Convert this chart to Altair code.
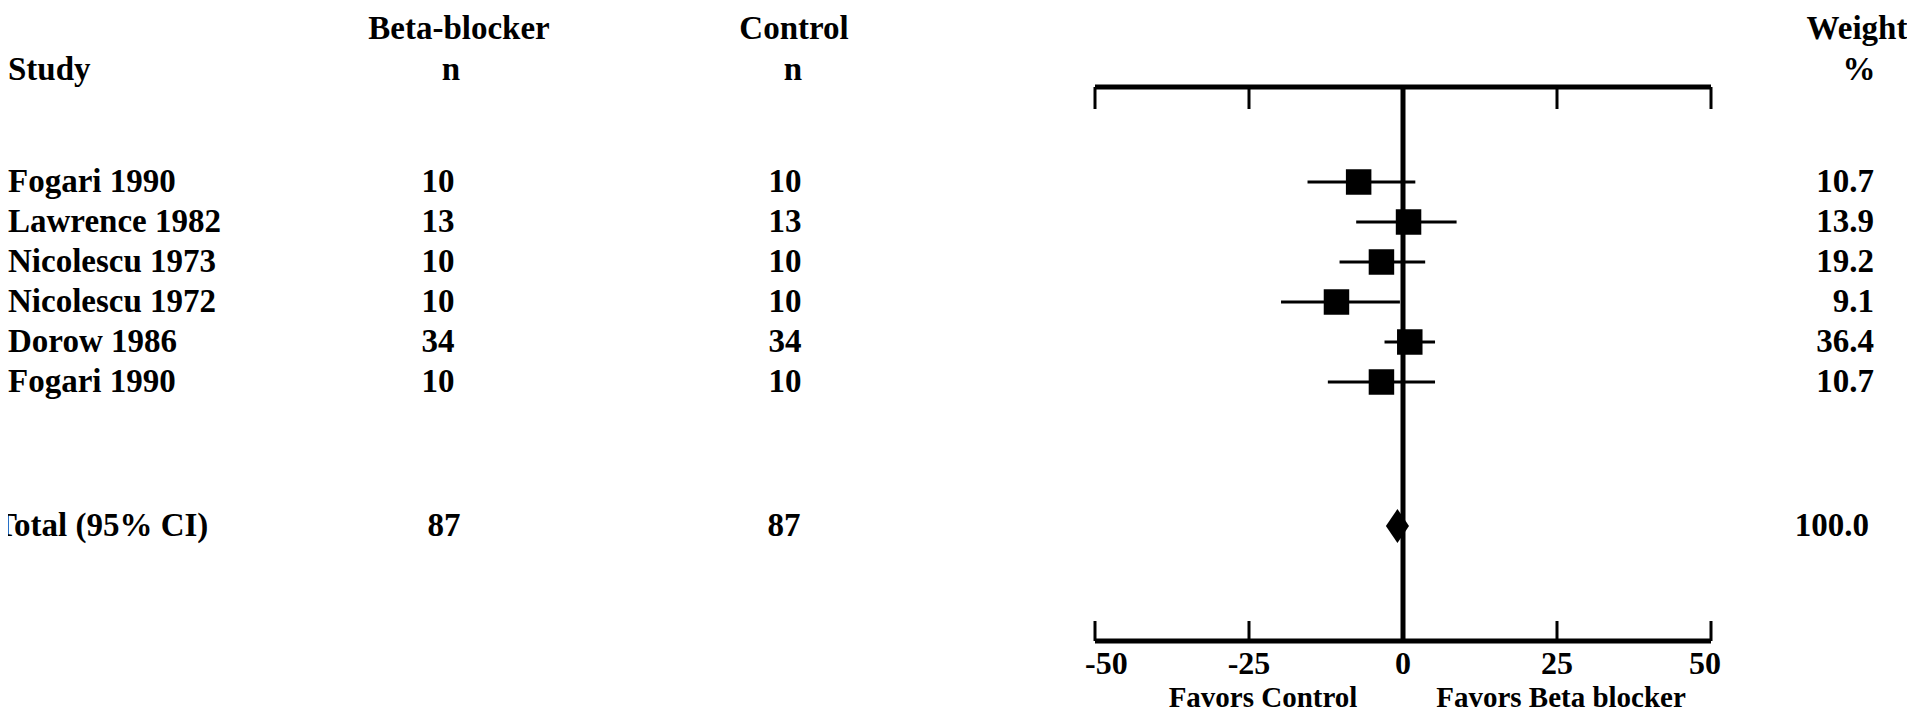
import altair as alt
import pandas as pd

# ---- data ----
studies = ["Fogari 1990", "Lawrence 1982", "Nicolescu 1973", "Nicolescu 1972", "Dorow 1986", "Fogari 1990"]
beta_n = [10, 13, 10, 10, 34, 10]
control_n = [10, 13, 10, 10, 34, 10]
effect = [-7.2, 0.9, -3.5, -10.8, 1.1, -3.5]
ci_low = [-15.5, -7.6, -10.3, -19.8, -3.0, -12.2]
ci_high = [2.0, 8.7, 3.6, -0.5, 5.2, 5.2]
weight = ["10.7", "13.9", "19.2", "9.1", "36.4", "10.7"]
rows = [1, 2, 3, 4, 5, 6]

total_label = "Total (95% CI)"
total_beta_n = 87
total_control_n = 87
total_effect = -0.9
total_weight = "100.0"
total_row = 9.6

axis_ticks = [-50, -25, 0, 25, 50]
tick_labels = ["-50", "-25", "0", "25", "50"]
favors = ["Favors Control", "Favors Beta blocker"]

# ---- tables ----
df = pd.DataFrame({
    "row": rows, "study": studies, "beta": beta_n, "control": control_n,
    "est": effect, "lo": ci_low, "hi": ci_high, "weight": weight,
})
tot = pd.DataFrame({
    "row": [total_row], "study": [total_label], "beta": [total_beta_n],
    "control": [total_control_n], "est": [total_effect], "weight": [total_weight],
})
ticks_df = pd.DataFrame({"tick": axis_ticks, "label": tick_labels})
ext_df = pd.DataFrame({"lo": [min(axis_ticks)], "hi": [max(axis_ticks)]})

FONT = "Liberation Serif"
FS = 33
W, H = 616, 554

xs = alt.Scale(domain=[min(axis_ticks), max(axis_ticks)], nice=False, zero=False)
ys = alt.Scale(domain=[1, 6], range=[95, 295], zero=False, nice=False)


def X(field):
    return alt.X(field, type="quantitative", scale=xs, axis=None)


def Y():
    return alt.Y("row:Q", scale=ys, axis=None)


def txt(**kw):
    base = dict(font=FONT, fontSize=FS, fontWeight="bold", color="black", baseline="middle")
    base.update(kw)
    return base


# axes drawn from the tick list
top_ticks = alt.Chart(ticks_df).mark_rule(strokeWidth=3, color="black").encode(
    x=X("tick"), y=alt.value(0), y2=alt.value(22))
bot_ticks = alt.Chart(ticks_df).mark_rule(strokeWidth=3, color="black").encode(
    x=X("tick"), y=alt.value(H - 20), y2=alt.value(H))
top_line = alt.Chart(ext_df).mark_rule(strokeWidth=5, color="black").encode(
    x=X("lo"), x2="hi:Q", y=alt.value(0))
bot_line = alt.Chart(ext_df).mark_rule(strokeWidth=5, color="black").encode(
    x=X("lo"), x2="hi:Q", y=alt.value(H))
zero_line = alt.Chart(ext_df).mark_rule(strokeWidth=5, color="black").encode(
    x=alt.X(datum=0, type="quantitative", scale=xs, axis=None),
    y=alt.value(0), y2=alt.value(H))

LBL_Y = 577
LBL_FS = 32
lab_first = alt.Chart(ticks_df.iloc[[0]]).mark_text(**txt(align="left", dx=-10, fontSize=LBL_FS)).encode(
    x=X("tick"), y=alt.value(LBL_Y), text="label:N")
lab_mid = alt.Chart(ticks_df.iloc[1:-1]).mark_text(**txt(align="center", fontSize=LBL_FS)).encode(
    x=X("tick"), y=alt.value(LBL_Y), text="label:N")
lab_last = alt.Chart(ticks_df.iloc[[-1]]).mark_text(**txt(align="right", dx=10, fontSize=LBL_FS)).encode(
    x=X("tick"), y=alt.value(LBL_Y), text="label:N")

ci = alt.Chart(df).mark_rule(strokeWidth=3, color="black").encode(
    x=X("lo"), x2="hi:Q", y=Y())
squares = alt.Chart(df).mark_point(shape="square", filled=True, size=650, color="black", opacity=1).encode(
    x=X("est"), y=Y())
diamond = alt.Chart(tot).mark_point(
    shape="M0,-1L0.68,0L0,1L-0.68,0Z", filled=True, size=1156, color="black", opacity=1
).encode(x=X("est"), y=Y())

# table columns
names = alt.Chart(df).mark_text(**txt(align="left")).encode(
    x=alt.value(-1087), y=Y(), text="study:N")
beta_col = alt.Chart(df).mark_text(**txt(align="center")).encode(
    x=alt.value(-657), y=Y(), text="beta:Q")
ctrl_col = alt.Chart(df).mark_text(**txt(align="center")).encode(
    x=alt.value(-310), y=Y(), text="control:Q")
w_col = alt.Chart(df).mark_text(**txt(align="right")).encode(
    x=alt.value(779), y=Y(), text="weight:N")

tot_name = alt.Chart(tot).mark_text(**txt(align="left")).encode(
    x=alt.value(-1100), y=Y(), text="study:N")
tot_beta = alt.Chart(tot).mark_text(**txt(align="center")).encode(
    x=alt.value(-651), y=Y(), text="beta:Q")
tot_ctrl = alt.Chart(tot).mark_text(**txt(align="center")).encode(
    x=alt.value(-311), y=Y(), text="control:Q")
tot_w = alt.Chart(tot).mark_text(**txt(align="right")).encode(
    x=alt.value(774), y=Y(), text="weight:N")

# headers
hdr = pd.DataFrame({
    "label": ["Study", "Beta-blocker", "n", "Control", "n", "Weight", "%"],
    "px": [-1087, -636, -644, -301, -302, 762, 764],
    "py": [-17, -58, -17, -58, -17, -58, -17],
    "al": ["left", "center", "center", "center", "center", "center", "center"],
})
hdr_left = alt.Chart(hdr[hdr.al == "left"]).mark_text(**txt(align="left")).encode(
    x=alt.X("px:Q", scale=None), y=alt.Y("py:Q", scale=None), text="label:N")
hdr_center = alt.Chart(hdr[hdr.al == "center"]).mark_text(**txt(align="center")).encode(
    x=alt.X("px:Q", scale=None), y=alt.Y("py:Q", scale=None), text="label:N")

fav = pd.DataFrame({"label": favors, "px": [168, 466]})
fav_text = alt.Chart(fav).mark_text(**txt(align="center", fontSize=29)).encode(
    x=alt.X("px:Q", scale=None), y=alt.value(610.5), text="label:N")

chart = alt.layer(
    top_ticks, bot_ticks, top_line, bot_line, zero_line, lab_first, lab_mid, lab_last,
    ci, squares, diamond,
    names, beta_col, ctrl_col, w_col, tot_name, tot_beta, tot_ctrl, tot_w,
    hdr_left, hdr_center, fav_text,
).properties(
    width=W, height=H,
    padding={"left": 1087, "top": 79, "right": 196, "bottom": 71},
    autosize=alt.AutoSizeParams(type="none"),
    background="white",
).configure_view(stroke=None)

chart.save("out.html", embed_options={"renderer": "svg", "actions": False})
